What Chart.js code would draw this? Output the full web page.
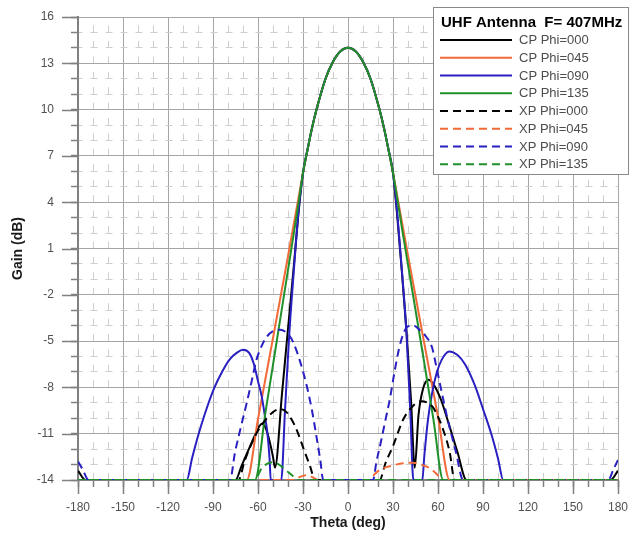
<!DOCTYPE html>
<html>
<head>
<meta charset="utf-8">
<title>UHF Antenna pattern</title>
<script src="https://cdn.jsdelivr.net/npm/chart.js@4.4.1/dist/chart.umd.min.js"></script>
<style>
  html, body { margin: 0; padding: 0; background: #fff; }
  #wrap { width: 631px; height: 537px; position: relative; }
</style>
</head>
<body>
<div id="wrap"><canvas id="pattern"></canvas></div>
<script>
/** Data */
const legendTitle = 'UHF Antenna  F= 407MHz';
const xTitle = 'Theta (deg)';
const yTitle = 'Gain (dB)';

const thetaMin = -180;
const thetaMax = 180;
const thetaStep = 10;
const thetaLabelStep = 30;
const gainMin = -14;
const gainMax = 16;
const gainStep = 1;
const gainLabelStep = 3;

const seriesNames = [
  'CP Phi=000', 'CP Phi=045', 'CP Phi=090', 'CP Phi=135',
  'XP Phi=000', 'XP Phi=045', 'XP Phi=090', 'XP Phi=135',
];

// main beam, shared by the four CP cuts
const mainLobe = [
  [-30, 5.9], [-27, 7.4], [-24, 8.8], [-21, 10.0], [-15, 12.0], [-10, 13.1], [-5, 13.78],
  [0, 14.0], [5, 13.78], [10, 13.1], [15, 12.0], [21, 10.0], [24, 8.8], [27, 7.4], [30, 5.9],
];

const cpPhi000 = [
  [-180, -13.4], [-175, -14], [-75, -14], [-71, -13.1], [-67, -12.2], [-62, -11.1], [-59, -10.5],
  [-57.5, -10.35], [-55, -10.6], [-52, -11.6], [-50, -12.5], [-48.7, -13.2], [-44, -8.4],
  [-40, -4.2], [-36, 0], [-33, 3.3],
  ...mainLobe,
  [33, 2.9], [36, -0.6], [39, -4.4], [42, -8.8], [44.5, -13.2], [47, -9.8], [50, -8.1],
  [53.5, -7.5], [57, -7.8], [62, -8.8], [67, -10.3], [73, -12.2], [79, -14], [175, -14], [180, -13.4],
];

const cpPhi045 = [
  [-180, -14], [-67.5, -14], [-60, -10.05], [-50, -4.8], [-40, 0.5],
  ...mainLobe,
  [40, 0.55], [50, -4.7], [60, -9.9], [67.8, -14], [180, -14],
];

const cpPhi090 = [
  [-180, -14], [-107.5, -14], [-104, -12.6], [-101, -11.5], [-98, -10.5], [-94, -9.3], [-89, -8],
  [-84, -7], [-79, -6.2], [-74, -5.75], [-70, -5.56], [-66, -5.75], [-63, -6.4], [-60, -7.6],
  [-57.5, -8.6], [-55.5, -9.8], [-53.8, -10.9], [-52.3, -12.6], [-51.5, -14], [-44.5, -14],
  [-42, -9.5], [-39, -4.3], [-36, -0.3], [-33, 3.4],
  ...mainLobe,
  [33, 3.1], [36, -0.5], [39, -4.5], [41.5, -9.5], [43.6, -14], [49.5, -14], [51, -12.3],
  [53.3, -10.1], [56, -8.4], [59, -7.1], [62.5, -6.2], [67.5, -5.67], [73, -5.9], [78, -6.5],
  [84.7, -7.9], [90, -9.4], [95.8, -11.1], [100, -12.6], [103.5, -14], [180, -14],
];

const cpPhi135 = [
  [-180, -14], [-62, -14], [-55, -9.6], [-48, -5.3], [-41, -1.0], [-34, 3.3],
  ...mainLobe,
  [37, 1.7], [44, -2.4], [51, -6.5], [57, -10.1], [63.5, -14], [180, -14],
];

const xpPhi000 = [
  [-180, -14], [-73, -14], [-69, -12.8], [-65, -11.8], [-60, -10.8], [-55, -10.1], [-50, -9.6],
  [-45.3, -9.4], [-41, -9.6], [-37.5, -10.1], [-34, -10.8], [-31, -11.6], [-28, -12.4],
  [-25.3, -13.1], [-22, -14], [21.1, -14], [25, -12.9], [30, -11.8], [36.7, -10.1], [43.3, -9.2],
  [48.9, -8.9], [53, -9], [56.7, -9.3], [60, -9.9], [63.3, -10.7], [67.8, -12.2], [71.1, -14],
  [180, -14],
];

const xpPhi045 = [
  [-180, -14], [-36, -14], [-32, -13.8], [-28, -13.7], [-24, -13.8], [-20, -14], [14.4, -14],
  [18, -13.6], [22, -13.3], [30, -13.05], [38, -12.9], [43.3, -12.88], [50, -13.05],
  [55.6, -13.3], [60, -13.7], [63.3, -14], [180, -14],
];

const xpPhi090 = [
  [-180, -12.8], [-177, -13.3], [-173, -14], [-78.7, -14], [-75.3, -12.2], [-71, -10.4],
  [-67.5, -9], [-64, -7.5], [-61, -6.2], [-57.5, -5.3], [-54, -4.7], [-50, -4.35], [-45.3, -4.27],
  [-40, -4.55], [-36.4, -5.1], [-32, -6.3], [-27.5, -7.9], [-24, -9.5], [-21, -11.2],
  [-18.5, -12.7], [-16.5, -14], [16.7, -14], [19, -12.8], [22, -11.5], [25, -10.1], [28, -8.7],
  [31, -7.0], [34, -5.5], [37, -4.5], [40, -4.05], [44, -4.0], [48, -4.3], [52, -4.7], [56, -5.4],
  [59, -6.7], [62, -8.1], [66.5, -10.1], [72, -12.2], [76.7, -14], [173.5, -14], [177, -13.3],
  [180, -12.7],
];

const xpPhi135 = [
  [-180, -14], [-62, -14], [-58, -13.3], [-54, -12.95], [-50, -12.85], [-46, -13], [-41, -13.4],
  [-36, -13.8], [-33, -14], [180, -14],
];

const allSeries = [cpPhi000, cpPhi045, cpPhi090, cpPhi135, xpPhi000, xpPhi045, xpPhi090, xpPhi135];
/** End of Data */

const lineColors = ['#000000', '#f26a38', '#2a1fc0', '#20902a', '#000000', '#f26a38', '#2a1fc0', '#20902a'];
const fontFamily = "'Liberation Sans', Arial, sans-serif";

function isMajor(value, base, step) {
  const r = Math.abs((value - base) % step);
  return r < 1e-6 || Math.abs(r - step) < 1e-6;
}

// gray T-shaped minor grid is approximated with short dashes
const xGridIsMajor = (ctx) => ctx.tick && isMajor(ctx.tick.value, thetaMin, thetaLabelStep);
const yGridIsMajor = (ctx) => ctx.tick && isMajor(ctx.tick.value, gainMin, gainLabelStep);

/** Plugins */
const majorTicks = {
  id: 'majorTicks',
  afterDraw(chart) {
    const { ctx, chartArea, scales } = chart;
    ctx.save();
    ctx.strokeStyle = '#808080';
    ctx.lineWidth = 1.5;
    ctx.beginPath();
    scales.x.ticks.forEach((t) => {
      if (!isMajor(t.value, thetaMin, thetaLabelStep)) return;
      const px = Math.round(scales.x.getPixelForValue(t.value)) + 0.5;
      ctx.moveTo(px, chartArea.bottom);
      ctx.lineTo(px, chartArea.bottom + 14);
    });
    scales.y.ticks.forEach((t) => {
      if (!isMajor(t.value, gainMin, gainLabelStep)) return;
      const py = Math.round(scales.y.getPixelForValue(t.value)) + 0.5;
      ctx.moveTo(chartArea.left, py);
      ctx.lineTo(chartArea.left - 16, py);
    });
    ctx.stroke();
    ctx.restore();
  },
};

const legendBox = {
  id: 'legendBox',
  afterDraw(chart) {
    const { ctx, chartArea } = chart;
    const w = 195;
    const h = 167;
    const x0 = chartArea.right + 10 - w;
    const y0 = chartArea.top - 10;
    ctx.save();
    ctx.fillStyle = '#ffffff';
    ctx.fillRect(x0, y0, w, h);
    ctx.strokeStyle = '#8a8a8a';
    ctx.lineWidth = 1;
    ctx.strokeRect(x0 + 0.5, y0 + 0.5, w, h);

    ctx.fillStyle = '#000';
    ctx.font = 'bold 15px ' + fontFamily;
    ctx.textBaseline = 'middle';
    ctx.fillText(legendTitle, x0 + 8, y0 + 16);

    ctx.font = '13px ' + fontFamily;
    chart.data.datasets.forEach((ds, i) => {
      const y = y0 + 33 + i * 17.75;
      ctx.beginPath();
      ctx.strokeStyle = ds.borderColor;
      ctx.lineWidth = 2;
      ctx.setLineDash(ds.borderDash || []);
      ctx.moveTo(x0 + 7, y);
      ctx.lineTo(x0 + 79, y);
      ctx.stroke();
      ctx.setLineDash([]);
      ctx.fillStyle = '#4d4d4d';
      ctx.fillText(ds.label, x0 + 86, y + 0.5);
    });
    ctx.restore();
  },
};
/** End of Plugins */

const datasets = allSeries.map((pts, i) => ({
  label: seriesNames[i],
  data: pts.map(([x, y]) => ({ x, y })),
  borderColor: lineColors[i],
  borderWidth: 2,
  borderDash: i >= 4 ? [8, 5] : [],
  pointRadius: 0,
  fill: false,
  cubicInterpolationMode: 'monotone',
  order: 20 - i,
}));

new Chart(document.getElementById('pattern').getContext('2d'), {
  type: 'line',
  data: { datasets },
  options: {
    responsive: true,
    maintainAspectRatio: false,
    animation: false,
    events: [],
    layout: { padding: { left: 0, top: 17, right: 13, bottom: 0 } },
    plugins: {
      legend: { display: false },
      tooltip: { enabled: false },
    },
    scales: {
      x: {
        type: 'linear',
        min: thetaMin,
        max: thetaMax,
        afterFit(scale) {
          scale.height = 57;
          scale.paddingLeft = 0;
          scale.paddingRight = 0;
        },
        ticks: {
          stepSize: thetaStep,
          autoSkip: false,
          maxRotation: 0,
          minRotation: 0,
          padding: 13,
          color: '#505050',
          font: { family: fontFamily, size: 12 },
          callback: (v) => (isMajor(v, thetaMin, thetaLabelStep) ? String(v) : ''),
        },
        grid: {
          color: (ctx) => (xGridIsMajor(ctx) ? '#a6a6a6' : '#cfcfcf'),
          lineWidth: 1,
          tickLength: 7,
          tickColor: '#808080',
          tickWidth: 1.5,
        },
        border: {
          color: '#808080',
          width: 2,
          dash: (ctx) => (xGridIsMajor(ctx) || !ctx.tick ? [] : [7, 8.43]),
          dashOffset: 7,
        },
        title: {
          display: true,
          text: xTitle,
          color: '#1a1a1a',
          font: { family: fontFamily, size: 14, weight: 'bold' },
          padding: { top: 0, bottom: 5 },
        },
      },
      y: {
        type: 'linear',
        min: gainMin,
        max: gainMax,
        afterFit(scale) {
          scale.width = 78;
          scale.paddingTop = 0;
          scale.paddingBottom = 0;
        },
        ticks: {
          stepSize: gainStep,
          autoSkip: false,
          padding: 17,
          color: '#505050',
          font: { family: fontFamily, size: 12 },
          callback: (v) => (isMajor(v, gainMin, gainLabelStep) ? String(v) : ''),
        },
        grid: {
          color: (ctx) => (yGridIsMajor(ctx) ? '#a6a6a6' : '#cfcfcf'),
          lineWidth: 1,
          tickLength: 7,
          tickColor: '#808080',
          tickWidth: 1.5,
        },
        border: {
          color: '#808080',
          width: 2,
          dash: (ctx) => (yGridIsMajor(ctx) || !ctx.tick ? [] : [7, 8]),
          dashOffset: 3.5,
        },
        title: {
          display: true,
          text: yTitle,
          color: '#1a1a1a',
          font: { family: fontFamily, size: 14, weight: 'bold' },
          padding: { top: 10, bottom: 0 },
        },
      },
    },
  },
  plugins: [majorTicks, legendBox],
});
</script>
</body>
</html>
